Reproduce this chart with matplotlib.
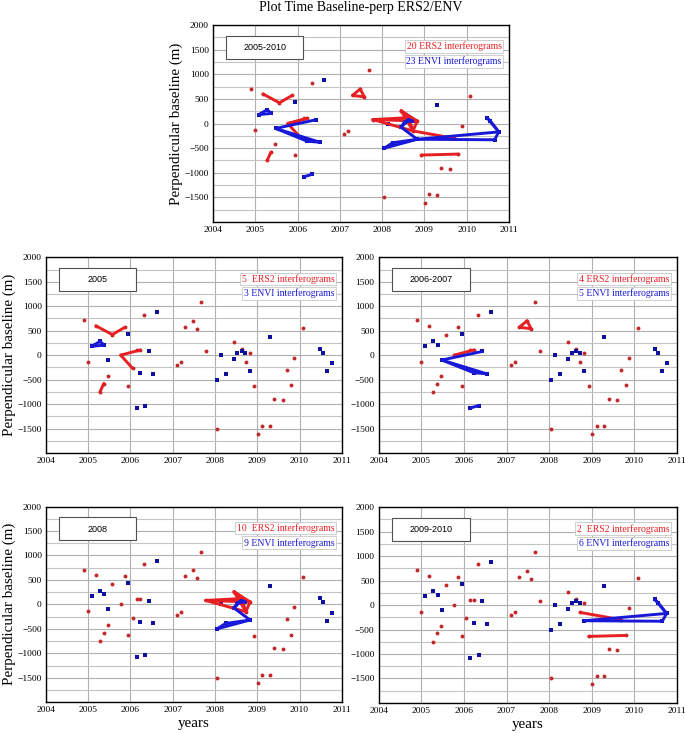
import matplotlib
matplotlib.use('Agg')
import matplotlib.pyplot as plt
from matplotlib.patches import Rectangle
from matplotlib.ticker import MultipleLocator

# ERS2 acquisitions (decimal year, perpendicular baseline m)
ers2_year = [2004.90, 2005.00, 2005.18, 2005.28, 2005.37, 2005.47, 2005.57, 2005.77,
             2005.87, 2005.95, 2006.05, 2006.15, 2006.23, 2006.33, 2007.10, 2007.20,
             2007.30, 2007.48, 2007.58, 2007.68, 2007.78, 2008.05, 2008.45, 2008.63,
             2008.73, 2008.83, 2008.93, 2009.02, 2009.12, 2009.30, 2009.40, 2009.60,
             2009.70, 2009.80, 2009.88, 2010.08]
ers2_bperp = [710, -140, 600, -750, -580, -420, 420, 0,
              570, -630, -270, 110, 105, 830, -210, -150,
              570, 700, 540, 1080, 80, -1500, 260, 120,
              -150, 50, -640, -1610, -1440, -1450, -900, -920,
              -300, -620, -50, 560]

# ENVISAT acquisitions
env_year = [2005.08, 2005.28, 2005.38, 2005.48, 2005.95, 2006.15, 2006.23, 2006.35,
            2006.43, 2006.53, 2006.63, 2008.05, 2008.15, 2008.25, 2008.45, 2008.53,
            2008.63, 2008.72, 2008.83, 2009.30, 2010.48, 2010.56, 2010.66, 2010.76]
env_bperp = [180, 280, 205, -100, 440, -1080, -360, -1030,
             75, -380, 880, -500, 0, -390, -75, 35,
             80, 50, -320, 380, 120, 50, -330, -170]

# interferogram pairs (indices into the acquisition lists)
periods = ['2005', '2006-2007', '2008', '2009-2010']
ers2_pairs = {
    '2005': [(2, 6), (6, 8), (7, 12), (7, 10), (3, 4)],
    '2006-2007': [(7, 12), (16, 17), (17, 18), (16, 18)],
    '2008': [(20, 25), (20, 23), (20, 24), (22, 25), (22, 24), (23, 24),
             (23, 25), (24, 25), (22, 23)],
    '2009-2010': [(24, 32), (26, 33)],
}
env_pairs = {
    '2005': [(0, 1), (1, 2), (0, 2)],
    '2006-2007': [(3, 8), (3, 9), (3, 6), (6, 9), (5, 7)],
    '2008': [(11, 13), (11, 18), (13, 18), (14, 18), (14, 15), (14, 16),
             (15, 16), (16, 17), (15, 17)],
    '2009-2010': [(18, 23), (18, 22), (20, 23), (22, 23), (20, 21), (21, 23)],
}
ers2_labels = {'2005-2010': '20 ERS2 interferograms', '2005': '5  ERS2 interferograms',
               '2006-2007': '4 ERS2 interferograms', '2008': '10  ERS2 interferograms',
               '2009-2010': '2  ERS2 interferograms'}
env_labels = {'2005-2010': '23 ENVI interferograms', '2005': '3 ENVI interferograms',
              '2006-2007': '5 ENVI interferograms', '2008': '9 ENVI interferograms',
              '2009-2010': '6 ENVI interferograms'}

SERIF = 'Liberation Serif'
RED_LINE, RED_PT = '#e81f22', '#c0282c'
BLUE_LINE, BLUE_PT = '#1818d8', '#1010a0'

fig = plt.figure(figsize=(6.85, 7.33), dpi=100)


def draw_panel(rect, name, e_pairs, v_pairs, ylabel=False, xlabel=False):
    ax = fig.add_axes(rect)
    ax.set_xlim(2004, 2011)
    ax.set_ylim(-2000, 2000)
    ax.set_xticks(range(2004, 2012))
    ax.set_yticks(range(-1500, 2001, 500))
    ax.yaxis.set_minor_locator(MultipleLocator(250))
    ax.grid(True, which='major', color='#b0b0b0', lw=0.8)
    ax.grid(True, which='minor', axis='y', color='#c4c4c4', lw=0.8)
    ax.set_axisbelow(True)
    ax.tick_params(which='both', length=0, pad=3, labelsize=6.8)
    for lab in ax.get_xticklabels() + ax.get_yticklabels():
        lab.set_fontfamily(SERIF)
    for sp in ax.spines.values():
        sp.set_linewidth(1.0)

    # acquisitions
    ax.plot(ers2_year, ers2_bperp, 'o', color=RED_PT, ms=2.8, mew=0, zorder=3)
    ax.plot(env_year, env_bperp, 's', color=BLUE_PT, ms=3.3, mew=0, zorder=3)

    # interferogram pairs
    for i, j in e_pairs:
        ax.plot([ers2_year[i], ers2_year[j]], [ers2_bperp[i], ers2_bperp[j]],
                color=RED_LINE, lw=2.1, solid_capstyle='round', zorder=4)
    for i, j in v_pairs:
        ax.plot([env_year[i], env_year[j]], [env_bperp[i], env_bperp[j]],
                color=BLUE_LINE, lw=2.1, solid_capstyle='round', zorder=4)

    # period box
    ax.add_patch(Rectangle((0.045, 0.827), 0.26, 0.117, transform=ax.transAxes,
                           fc='white', ec='#505050', lw=0.8, zorder=5))
    ax.text(0.175, 0.885, name, transform=ax.transAxes, ha='center', va='center',
            fontsize=6.5, family='Liberation Sans', zorder=6)

    box = dict(boxstyle='square,pad=0.15', fc='white', ec='#c8c8c8', lw=0.6)
    ax.text(0.975, 0.89, ers2_labels[name], transform=ax.transAxes, ha='right',
            va='center', fontsize=7, family=SERIF, color=RED_LINE, bbox=box, zorder=6)
    ax.text(0.975, 0.815, env_labels[name], transform=ax.transAxes, ha='right',
            va='center', fontsize=7, family=SERIF, color=BLUE_LINE, bbox=box, zorder=6)

    if ylabel:
        ax.set_ylabel('Perpendicular baseline (m)', family=SERIF, fontsize=10.8)
        ax.yaxis.set_label_coords(-0.10, 0.5)
    if xlabel:
        ax.set_xlabel('years', family=SERIF, fontsize=10.8, labelpad=2)
    return ax


all_e = [p for k in periods for p in ers2_pairs[k]]
all_v = [p for k in periods for p in env_pairs[k]]
top = draw_panel([0.311, 0.697, 0.432, 0.269], '2005-2010', all_e, all_v, ylabel=True)
top.set_title('Plot Time Baseline-perp ERS2/ENV', family=SERIF, fontsize=10, pad=10)

draw_panel([0.067, 0.382, 0.432, 0.267], '2005', ers2_pairs['2005'], env_pairs['2005'], ylabel=True)
draw_panel([0.553, 0.382, 0.435, 0.267], '2006-2007', ers2_pairs['2006-2007'], env_pairs['2006-2007'])
draw_panel([0.067, 0.042, 0.432, 0.267], '2008', ers2_pairs['2008'], env_pairs['2008'],
           ylabel=True, xlabel=True)
draw_panel([0.553, 0.041, 0.435, 0.267], '2009-2010', ers2_pairs['2009-2010'], env_pairs['2009-2010'],
           xlabel=True)

fig.savefig('out.png', dpi=100)
